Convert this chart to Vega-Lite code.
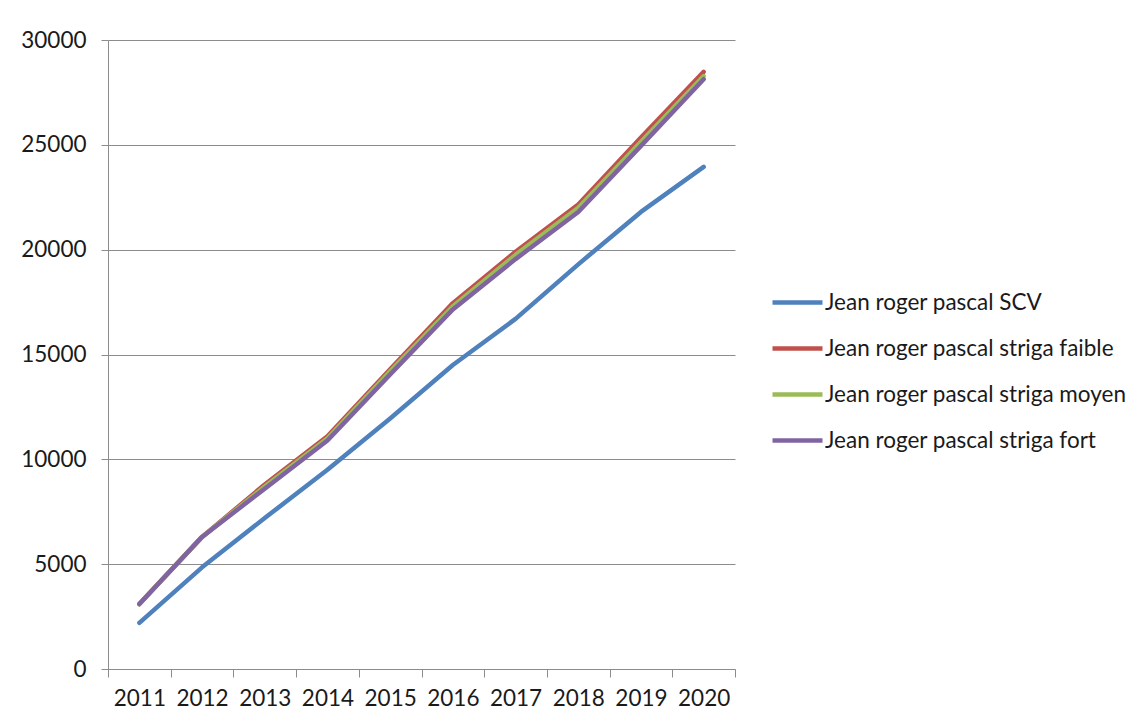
{
  "$schema": "https://vega.github.io/schema/vega-lite/v6.json",
  "autosize": {"type": "none"},
  "width": 627,
  "height": 629,
  "padding": {"left": 108, "top": 40, "right": 409, "bottom": 55},
  "background": "white",
  "config": {
    "view": {"stroke": null},
    "font": "Lato",
    "axis": {"labelFont": "Lato", "labelColor": "#1a1a1a", "labelFontSize": 22.5},
    "legend": {"labelFont": "Lato"}
  },
  "data": {
    "values": [
      {"year": "2011", "series": "Jean roger pascal SCV", "value": 2200},
      {"year": "2012", "series": "Jean roger pascal SCV", "value": 4850},
      {"year": "2013", "series": "Jean roger pascal SCV", "value": 7200},
      {"year": "2014", "series": "Jean roger pascal SCV", "value": 9500},
      {"year": "2015", "series": "Jean roger pascal SCV", "value": 11950},
      {"year": "2016", "series": "Jean roger pascal SCV", "value": 14500},
      {"year": "2017", "series": "Jean roger pascal SCV", "value": 16700},
      {"year": "2018", "series": "Jean roger pascal SCV", "value": 19300},
      {"year": "2019", "series": "Jean roger pascal SCV", "value": 21800},
      {"year": "2020", "series": "Jean roger pascal SCV", "value": 23950},
      {"year": "2011", "series": "Jean roger pascal striga faible", "value": 3100},
      {"year": "2012", "series": "Jean roger pascal striga faible", "value": 6300},
      {"year": "2013", "series": "Jean roger pascal striga faible", "value": 8800},
      {"year": "2014", "series": "Jean roger pascal striga faible", "value": 11100},
      {"year": "2015", "series": "Jean roger pascal striga faible", "value": 14300},
      {"year": "2016", "series": "Jean roger pascal striga faible", "value": 17450},
      {"year": "2017", "series": "Jean roger pascal striga faible", "value": 19900},
      {"year": "2018", "series": "Jean roger pascal striga faible", "value": 22150},
      {"year": "2019", "series": "Jean roger pascal striga faible", "value": 25350},
      {"year": "2020", "series": "Jean roger pascal striga faible", "value": 28480},
      {"year": "2011", "series": "Jean roger pascal striga moyen", "value": 3100},
      {"year": "2012", "series": "Jean roger pascal striga moyen", "value": 6300},
      {"year": "2013", "series": "Jean roger pascal striga moyen", "value": 8700},
      {"year": "2014", "series": "Jean roger pascal striga moyen", "value": 11000},
      {"year": "2015", "series": "Jean roger pascal striga moyen", "value": 14200},
      {"year": "2016", "series": "Jean roger pascal striga moyen", "value": 17300},
      {"year": "2017", "series": "Jean roger pascal striga moyen", "value": 19750},
      {"year": "2018", "series": "Jean roger pascal striga moyen", "value": 22000},
      {"year": "2019", "series": "Jean roger pascal striga moyen", "value": 25150},
      {"year": "2020", "series": "Jean roger pascal striga moyen", "value": 28280},
      {"year": "2011", "series": "Jean roger pascal striga fort", "value": 3100},
      {"year": "2012", "series": "Jean roger pascal striga fort", "value": 6300},
      {"year": "2013", "series": "Jean roger pascal striga fort", "value": 8600},
      {"year": "2014", "series": "Jean roger pascal striga fort", "value": 10900},
      {"year": "2015", "series": "Jean roger pascal striga fort", "value": 14050},
      {"year": "2016", "series": "Jean roger pascal striga fort", "value": 17150},
      {"year": "2017", "series": "Jean roger pascal striga fort", "value": 19550},
      {"year": "2018", "series": "Jean roger pascal striga fort", "value": 21800},
      {"year": "2019", "series": "Jean roger pascal striga fort", "value": 24950},
      {"year": "2020", "series": "Jean roger pascal striga fort", "value": 28130}
    ]
  },
  "encoding": {
    "x": {
      "field": "year",
      "type": "ordinal",
      "bandPosition": 0.5,
      "scale": {"type": "band", "paddingInner": 0, "paddingOuter": 0},
      "axis": {
        "title": null,
        "labelAngle": 0,
        "tickBand": "extent",
        "domainColor": "#8c8c8c",
        "tickColor": "#8c8c8c",
        "tickSize": 8,
        "labelPadding": 10,
        "grid": false
      }
    },
    "y": {
      "field": "value",
      "type": "quantitative",
      "scale": {"domain": [0, 30000], "nice": false},
      "axis": {
        "title": null,
        "values": [0, 5000, 10000, 15000, 20000, 25000, 30000],
        "format": "d",
        "grid": true,
        "gridColor": "#8c8c8c",
        "gridWidth": 1,
        "domainColor": "#8c8c8c",
        "tickColor": "#8c8c8c",
        "tickSize": 7,
        "labelPadding": 15
      }
    },
    "color": {
      "field": "series",
      "type": "nominal",
      "scale": {
        "domain": ["Jean roger pascal SCV", "Jean roger pascal striga faible", "Jean roger pascal striga moyen", "Jean roger pascal striga fort"],
        "range": ["#4F81BD", "#C0504D", "#9BBB59", "#8064A2"]
      },
      "legend": {
        "title": null,
        "orient": "none",
        "legendX": 662,
        "legendY": 235,
        "symbolType": "stroke",
        "symbolSize": 2500,
        "symbolStrokeWidth": 4.5,
        "labelFontSize": 22.5,
        "labelColor": "#1a1a1a",
        "labelOffset": 0,
        "rowPadding": 7,
        "labelLimit": 400
      }
    }
  },
  "layer": [
    {"transform": [{"filter": "datum.series === 'Jean roger pascal SCV'"}], "mark": {"type": "line", "strokeWidth": 4.5, "strokeCap": "round", "strokeJoin": "round"}},
    {"transform": [{"filter": "datum.series === 'Jean roger pascal striga faible'"}], "mark": {"type": "line", "strokeWidth": 4.5, "strokeCap": "round", "strokeJoin": "round"}},
    {"transform": [{"filter": "datum.series === 'Jean roger pascal striga moyen'"}], "mark": {"type": "line", "strokeWidth": 4.5, "strokeCap": "round", "strokeJoin": "round"}},
    {"transform": [{"filter": "datum.series === 'Jean roger pascal striga fort'"}], "mark": {"type": "line", "strokeWidth": 4.5, "strokeCap": "round", "strokeJoin": "round"}}
  ]
}
